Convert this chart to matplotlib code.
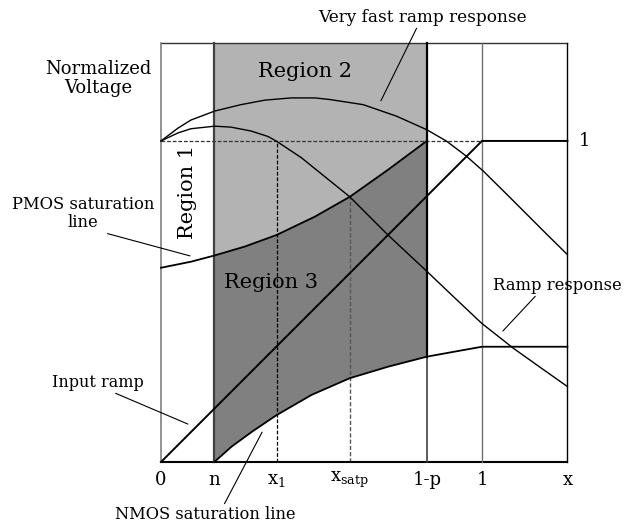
import numpy as np
import matplotlib
matplotlib.use('Agg')
import matplotlib.pyplot as plt

plt.rcParams['font.family'] = ['DejaVu Serif']
plt.rcParams['mathtext.fontset'] = 'dejavuserif'

# ---------- data (x, y normalized) ----------
x_n = 0.166
x_1 = 0.360
x_satp = 0.588
x_1mp = 0.828
x_end = 1.266
y_top = 1.305

tick_pos = [0, x_n, x_1, x_satp, x_1mp, 1.0, x_end]
tick_lab = ['0', 'n', 'x$_1$', r'x$_{\mathrm{satp}}$', '1-p', '1', 'x']

ramp_x = [0, 1.0, x_end]
ramp_y = [0, 1.0, 1.0]

fast_x = [0, 0.053, 0.093, 0.167, 0.249, 0.323, 0.405, 0.479, 0.526, 0.630,
          0.734, 0.828, 0.890, 0.952, 1.004, 1.077, 1.150, 1.202, 1.266]
fast_y = [1.0, 1.040, 1.065, 1.093, 1.113, 1.127, 1.134, 1.134, 1.129, 1.113,
          1.077, 1.035, 0.999, 0.952, 0.906, 0.834, 0.761, 0.709, 0.646]

resp_x = [0, 0.053, 0.093, 0.167, 0.218, 0.280, 0.333, 0.360, 0.437, 0.510,
          0.588, 0.707, 0.828, 0.911, 0.999, 1.098, 1.181, 1.266]
resp_y = [1.0, 1.025, 1.038, 1.046, 1.043, 1.031, 1.014, 0.999, 0.948, 0.889,
          0.826, 0.707, 0.594, 0.515, 0.432, 0.354, 0.295, 0.235]

pmos_x = [0, 0.094, 0.166, 0.261, 0.360, 0.479, 0.588, 0.707, 0.828]
pmos_y = [0.605, 0.624, 0.643, 0.671, 0.707, 0.764, 0.826, 0.910, 1.0]

nmos_x = [0.166, 0.220, 0.283, 0.360, 0.469, 0.588, 0.708, 0.828, 0.916, 1.0, x_end]
nmos_y = [0.0, 0.048, 0.094, 0.146, 0.209, 0.261, 0.297, 0.328, 0.344, 0.359, 0.359]

# ---------- figure ----------
fig = plt.figure(figsize=(6.4, 5.27), dpi=100)
ax = fig.add_axes([0, 0, 1, 1])
ax.set_xlim(-0.5016, 1.4922)
ax.set_ylim(-0.2025, 1.439)
ax.axis('off')

pm_x = np.array(pmos_x)
pm_y = np.array(pmos_y)
nm_x = np.array(nmos_x)
nm_y = np.array(nmos_y)
sel_p = (pm_x >= x_n) & (pm_x <= x_1mp)
sel_n = (nm_x >= x_n) & (nm_x <= x_1mp)

# region 2 (light) : from PMOS line to top
poly2_x = np.concatenate([pm_x[sel_p], [x_1mp, x_n]])
poly2_y = np.concatenate([pm_y[sel_p], [y_top, y_top]])
ax.fill(poly2_x, poly2_y, color='#b3b3b3', lw=0, zorder=1)
# region 3 (dark) : between PMOS and NMOS lines
poly3_x = np.concatenate([pm_x[sel_p], nm_x[sel_n][::-1]])
poly3_y = np.concatenate([pm_y[sel_p], nm_y[sel_n][::-1]])
ax.fill(poly3_x, poly3_y, color='#808080', lw=0, zorder=1)

# frame and verticals
ax.plot([0, x_end], [0, 0], color='black', lw=1.5, zorder=3)
ax.plot([0, x_end], [y_top, y_top], color='#333333', lw=1.0, zorder=3)
ax.plot([0, 0], [0, y_top], color='#808080', lw=1.2, zorder=3)
ax.plot([x_n, x_n], [0, y_top], color='#404040', lw=1.6, zorder=3)
ax.plot([x_1mp, x_1mp], [0, y_top], color='#404040', lw=1.2, zorder=3)
ax.plot([x_1mp, x_1mp], [nmos_y[7], y_top], color='black', lw=1.6, zorder=3)
ax.plot([1, 1], [0, y_top], color='#707070', lw=1.0, zorder=3)
ax.plot([x_end, x_end], [0, y_top], color='black', lw=1.0, zorder=3)

# dashed guides
ax.plot([0, 1], [1, 1], color='#333333', lw=0.9, ls=(0, (3, 1.5)), zorder=2)
ax.plot([x_1, x_1], [0, 1], color='black', lw=0.9, ls=(0, (3, 1.5)), zorder=2)
ax.plot([x_satp, x_satp], [0, resp_y[10]], color='#555555', lw=1.0,
        ls=(0, (3, 1.5)), zorder=2)

# curves
ax.plot(ramp_x, ramp_y, color='black', lw=1.4, zorder=4)
ax.plot(fast_x, fast_y, color='black', lw=1.0, zorder=4)
ax.plot(resp_x, resp_y, color='black', lw=1.0, zorder=4)
ax.plot(pmos_x, pmos_y, color='black', lw=1.3, zorder=4)
ax.plot(nmos_x, nmos_y, color='black', lw=1.3, zorder=4)

# tick labels
for xp, lab in zip(tick_pos, tick_lab):
    ax.text(xp, -0.055, lab, ha='center', va='center', fontsize=13)
ax.text(1.3, 1.0, '1', ha='left', va='center', fontsize=13)

# titles and region names
ax.text(-0.196, 1.195, 'Normalized\nVoltage', ha='center', va='center',
        fontsize=13, linespacing=1.1)
ax.text(0.449, 1.215, 'Region 2', ha='center', va='center', fontsize=15)
ax.text(0.343, 0.559, 'Region 3', ha='center', va='center', fontsize=15)
ax.text(0.084, 0.84, 'Region 1', ha='center', va='center', fontsize=15,
        rotation=90)

# annotations
ax.annotate('Very fast ramp response', xy=(0.685, 1.125), xytext=(0.816, 1.386),
            ha='center', va='center', fontsize=12.2,
            arrowprops=dict(arrowstyle='-', lw=0.8, color='black',
                            shrinkA=0, shrinkB=0, relpos=(0.476, 0.0)))
ax.annotate('PMOS saturation\nline', xy=(0.090, 0.642), xytext=(-0.243, 0.775),
            ha='center', va='center', fontsize=11.8, linespacing=1.1,
            arrowprops=dict(arrowstyle='-', lw=0.8, color='black',
                            shrinkA=0, shrinkB=0, relpos=(0.6, 0.0)))
ax.annotate('Input ramp', xy=(0.084, 0.118), xytext=(-0.196, 0.249),
            ha='center', va='center', fontsize=11.5,
            arrowprops=dict(arrowstyle='-', lw=0.8, color='black',
                            shrinkA=0, shrinkB=0, relpos=(0.62, 0.0)))
ax.annotate('NMOS saturation line', xy=(0.315, 0.093), xytext=(0.137, -0.165),
            ha='center', va='center', fontsize=11.7,
            arrowprops=dict(arrowstyle='-', lw=0.8, color='black',
                            shrinkA=0, shrinkB=0, relpos=(0.6, 1.0)))
ax.annotate('Ramp response', xy=(1.065, 0.408), xytext=(1.234, 0.551),
            ha='center', va='center', fontsize=11.8,
            arrowprops=dict(arrowstyle='-', lw=0.8, color='black',
                            shrinkA=0, shrinkB=0, relpos=(0.35, 0.0)))

fig.savefig('out.png', dpi=100)
